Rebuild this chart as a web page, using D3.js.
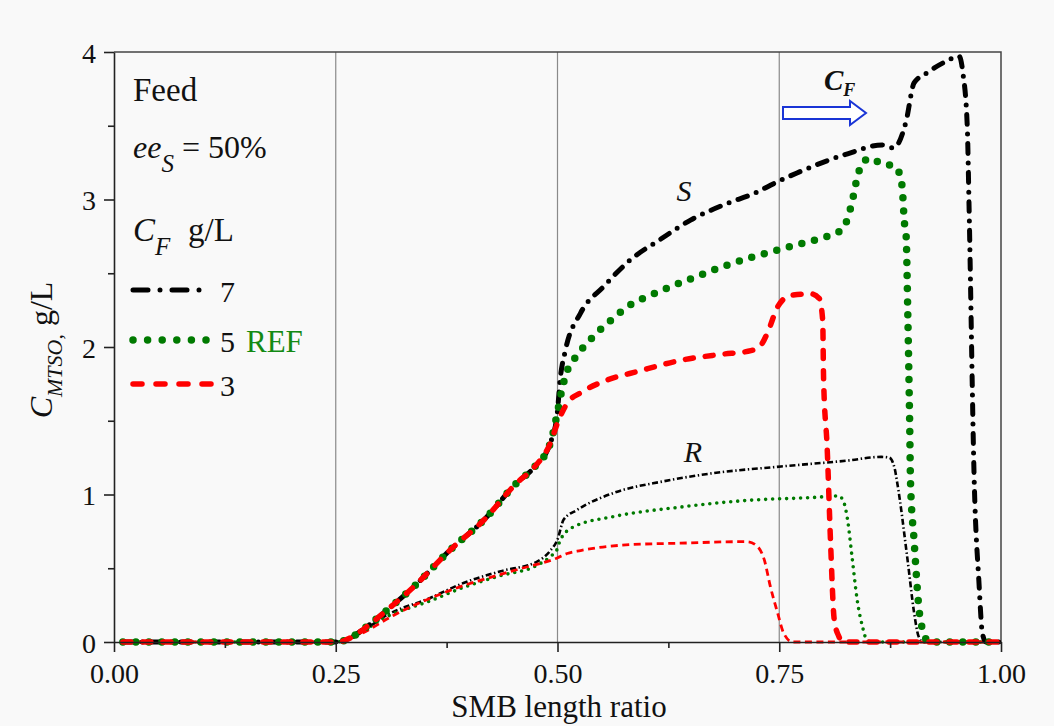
<!DOCTYPE html>
<html>
<head>
<meta charset="utf-8">
<script src="https://cdn.jsdelivr.net/npm/d3@7"></script>
<style>
  html, body { margin: 0; padding: 0; background: #f9f9f9; }
  svg { display: block; }
  svg text { font-family: "Liberation Serif", "Times New Roman", serif !important; fill: #111; }
</style>
</head>
<body>
<svg id="chart" width="1054" height="726"></svg>
<script>
// [SMB length ratio, C g/L]
const zeroLead = [[0.01, 0], [0.05, 0], [0.1, 0], [0.15, 0], [0.2, 0], [0.25, 0]];
const riseS = [[0.26, 0.01], [0.27, 0.04], [0.285, 0.104], [0.308, 0.217], [0.338, 0.375],
  [0.379, 0.624], [0.417, 0.827], [0.454, 1.078], [0.473, 1.18], [0.492, 1.35]];

const s7 = [[0.4997, 1.55], [0.503, 1.78], [0.509, 1.98], [0.526, 2.23], [0.552, 2.41], [0.582, 2.59],
  [0.616, 2.73], [0.650, 2.86], [0.690, 2.97], [0.721, 3.04], [0.748, 3.12], [0.770, 3.18],
  [0.827, 3.31], [0.866, 3.37], [0.879, 3.35], [0.893, 3.53], [0.902, 3.79], [0.917, 3.86],
  [0.936, 3.93], [0.953, 3.97], [0.957, 3.86], [0.962, 3.49], [0.964, 2.95], [0.970, 1.05],
  [0.975, 0.42], [0.979, 0.06], [0.983, 0], [1.0, 0]];
const s5 = [[0.4997, 1.55], [0.505, 1.71], [0.511, 1.84], [0.518, 1.91], [0.537, 2.05], [0.56, 2.18],
  [0.586, 2.30], [0.597, 2.33], [0.628, 2.41], [0.658, 2.48], [0.684, 2.54], [0.720, 2.61],
  [0.750, 2.66], [0.774, 2.70], [0.804, 2.75], [0.817, 2.78], [0.827, 2.87], [0.832, 2.98],
  [0.838, 3.15], [0.844, 3.25], [0.853, 3.28], [0.866, 3.24], [0.879, 3.23], [0.887, 3.15],
  [0.889, 3.05], [0.891, 2.85], [0.893, 2.76], [0.895, 2.2], [0.897, 1.5], [0.898, 1.08],
  [0.902, 0.69], [0.908, 0.2], [0.913, 0.06], [0.918, 0], [0.95, 0], [1.0, 0]];
const s3 = [[0.4997, 1.48], [0.511, 1.62], [0.526, 1.69], [0.549, 1.76], [0.594, 1.84], [0.639, 1.91],
  [0.684, 1.95], [0.718, 1.975], [0.729, 2.01], [0.737, 2.10], [0.748, 2.27], [0.763, 2.35],
  [0.786, 2.36], [0.795, 2.33], [0.799, 2.18], [0.800, 1.78], [0.804, 1.32], [0.808, 0.65],
  [0.812, 0.15], [0.817, 0.04], [0.822, 0], [0.9, 0], [1.0, 0]];

const r7 = [[0.265, 0.02], [0.28, 0.07], [0.304, 0.17], [0.357, 0.30], [0.394, 0.40], [0.436, 0.48],
  [0.477, 0.545], [0.492, 0.62], [0.4997, 0.69], [0.507, 0.83], [0.522, 0.895], [0.563, 1.01],
  [0.620, 1.09], [0.676, 1.145], [0.752, 1.19], [0.827, 1.23], [0.865, 1.255], [0.874, 1.25],
  [0.880, 1.18], [0.883, 1.08], [0.895, 0.54], [0.902, 0.20], [0.907, 0.04], [0.912, 0], [1.0, 0]];
const r5 = [[0.265, 0.02], [0.28, 0.07], [0.304, 0.16], [0.357, 0.28], [0.394, 0.37], [0.436, 0.45],
  [0.477, 0.52], [0.492, 0.58], [0.4997, 0.63], [0.503, 0.69], [0.518, 0.78], [0.563, 0.85],
  [0.639, 0.915], [0.714, 0.96], [0.789, 0.98], [0.817, 0.99], [0.822, 0.96], [0.827, 0.83],
  [0.832, 0.58], [0.838, 0.28], [0.844, 0.10], [0.849, 0.01], [0.855, 0], [1.0, 0]];
const r3 = [[0.265, 0.02], [0.28, 0.06], [0.315, 0.18], [0.379, 0.35], [0.454, 0.49], [0.4997, 0.57],
  [0.511, 0.60], [0.526, 0.62], [0.582, 0.66], [0.639, 0.67], [0.707, 0.68], [0.714, 0.68],
  [0.725, 0.65], [0.733, 0.56], [0.740, 0.375], [0.748, 0.20], [0.755, 0.06], [0.765, 0], [1.0, 0]];

const xTicks = [0, 0.25, 0.5, 0.75, 1.0];
const xMinor = [0.125, 0.375, 0.625, 0.875];
const yTicks = [0, 1, 2, 3, 4];
const yMinor = [0.5, 1.5, 2.5, 3.5];
const gridAt = [0.25, 0.5, 0.75];
const feedLabels = ['7', '5', '3'];

const svg = d3.select('#chart');
const x = d3.scaleLinear().domain([0, 1]).range([114, 1001]);
const y = d3.scaleLinear().domain([0, 4]).range([642, 52]);

// grid lines
svg.append('g').selectAll('line').data(gridAt).join('line')
  .attr('x1', d => x(d)).attr('x2', d => x(d))
  .attr('y1', y(4)).attr('y2', y(0))
  .attr('stroke', '#8a8a8a').attr('stroke-width', 1.2);

// frame
svg.append('path')
  .attr('d', `M${x(0)},${y(4)}H${x(1)}V${y(0)}`)
  .attr('fill', 'none').attr('stroke', '#444').attr('stroke-width', 1.5);

const line = d3.line().x(d => x(d[0])).y(d => y(d[1])).curve(d3.curveMonotoneX);

const thin = [
  { data: zeroLead.concat(r7), color: '#000', width: 2.6, dash: '6 2.6 1.4 2.6', cap: 'butt' },
  { data: zeroLead.concat(r5), color: '#007a00', width: 3.6, dash: '0 7', cap: 'round' },
  { data: zeroLead.concat(r3), color: '#ff0000', width: 2.8, dash: '7 4.5', cap: 'butt' }
];
const thick = [
  { data: zeroLead.concat(riseS, s7), color: '#000', width: 5, dash: '10 9.5 0 9.5', cap: 'round' },
  { data: zeroLead.concat(riseS, s5), color: '#007a00', width: 7.5, dash: '0 13', cap: 'round' },
  { data: zeroLead.concat(riseS, s3), color: '#ff0000', width: 5.5, dash: '8 12', cap: 'round' }
];

svg.append('g').selectAll('path').data(thin.concat(thick)).join('path')
  .attr('d', d => line(d.data))
  .attr('fill', 'none')
  .attr('stroke', d => d.color)
  .attr('stroke-width', d => d.width)
  .attr('stroke-dasharray', d => d.dash)
  .attr('stroke-linecap', d => d.cap)
  .attr('stroke-linejoin', 'round');

// axes
svg.append('g').attr('transform', `translate(0,${y(0)})`)
  .call(d3.axisBottom(x).tickValues(xTicks).tickFormat(d3.format('.2f')).tickSizeInner(10).tickSizeOuter(0).tickPadding(11));
svg.append('g').attr('transform', `translate(0,${y(0)})`)
  .call(d3.axisBottom(x).tickValues(xMinor).tickFormat('').tickSizeInner(6).tickSizeOuter(0))
  .select('.domain').remove();
const yAxis = svg.append('g').attr('transform', `translate(${x(0)},0)`)
  .call(d3.axisLeft(y).tickValues(yTicks).tickFormat(d3.format('d')).tickSizeInner(10).tickSizeOuter(0).tickPadding(8));
svg.append('g').attr('transform', `translate(${x(0)},0)`)
  .call(d3.axisLeft(y).tickValues(yMinor).tickFormat('').tickSizeInner(6).tickSizeOuter(0))
  .select('.domain').remove();

svg.selectAll('.domain, .tick line').attr('stroke', '#222').attr('stroke-width', 1.6);
svg.selectAll('.tick text').style('font-size', '28px').attr('fill', '#111');
yAxis.selectAll('.tick text').attr('dy', '0.36em');

// axis titles
svg.append('text').attr('x', 559).attr('y', 717).attr('text-anchor', 'middle')
  .style('font-size', '31px').text('SMB length ratio');

const yl = svg.append('text').attr('transform', 'translate(52,350) rotate(-90)')
  .attr('text-anchor', 'middle').style('font-size', '32px');
yl.append('tspan').style('font-style', 'italic').text('C');
yl.append('tspan').style('font-style', 'italic').style('font-size', '22px').attr('dy', 10).text('MTSO');
yl.append('tspan').style('font-size', '22px').text(',');
yl.append('tspan').attr('dy', -10).text(' g/L');

// legend block
svg.append('text').attr('x', 133).attr('y', 101).style('font-size', '33px').text('Feed');

const ee = svg.append('text').attr('x', 133).attr('y', 158).style('font-size', '32px');
ee.append('tspan').style('font-style', 'italic').text('ee');
ee.append('tspan').style('font-style', 'italic').style('font-size', '25px').attr('dy', 14).text('S');
ee.append('tspan').attr('dy', -14).text(' = 50%');

const cf = svg.append('text').attr('x', 133).attr('y', 241).style('font-size', '33px');
cf.append('tspan').style('font-style', 'italic').text('C');
cf.append('tspan').style('font-style', 'italic').style('font-size', '25px').attr('dy', 14).text('F');
svg.append('text').attr('x', 188).attr('y', 241).style('font-size', '33px').text('g/L');

const legendRows = [
  { y: 290, color: '#000', width: 5, dash: '15 12 0 12', cap: 'round', x2: 204 },
  { y: 340, color: '#007a00', width: 7.5, dash: '0 14.6', cap: 'round', x2: 210 },
  { y: 384, color: '#ff0000', width: 5.5, dash: '9 14', cap: 'round', x2: 211 }
];
const lg = svg.append('g');
lg.selectAll('line').data(legendRows).join('line')
  .attr('x1', 133).attr('x2', d => d.x2)
  .attr('y1', d => d.y).attr('y2', d => d.y)
  .attr('stroke', d => d.color).attr('stroke-width', d => d.width)
  .attr('stroke-dasharray', d => d.dash).attr('stroke-linecap', d => d.cap);
lg.selectAll('text').data(legendRows).join('text')
  .attr('x', 220).attr('y', d => d.y + 12)
  .style('font-size', '30px').text((d, i) => feedLabels[i]);
svg.append('text').attr('x', 246).attr('y', 352).style('font-size', '31px')
  .style('fill', '#138a13').text('REF');

// curve labels
svg.append('text').attr('x', 684).attr('y', 201).attr('text-anchor', 'middle')
  .style('font-size', '30px').style('font-style', 'italic').text('S');
svg.append('text').attr('x', 693).attr('y', 462).attr('text-anchor', 'middle')
  .style('font-size', '30px').style('font-style', 'italic').text('R');

// feed concentration arrow
const cfl = svg.append('text').attr('x', 824).attr('y', 90)
  .style('font-size', '29px').style('font-style', 'italic').style('font-weight', 'bold');
cfl.append('tspan').text('C');
cfl.append('tspan').style('font-size', '18px').attr('dy', 6).text('F');

svg.append('path')
  .attr('d', 'M783,107H850V101L866,113L850,125V119H783Z')
  .attr('fill', '#fff').attr('stroke', '#1a35d6').attr('stroke-width', 2);
</script>
</body>
</html>
